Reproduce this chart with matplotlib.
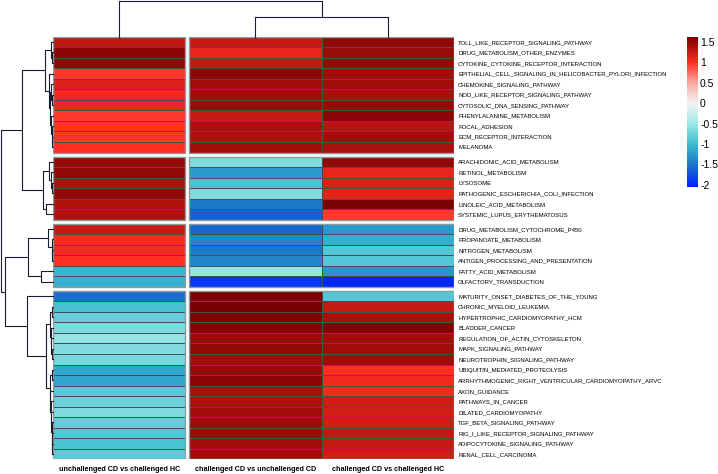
import numpy as np
import matplotlib
matplotlib.use("Agg")
import matplotlib.pyplot as plt
from matplotlib.colors import LinearSegmentedColormap, Normalize
from matplotlib.cm import ScalarMappable
from matplotlib.patches import Rectangle

plt.rcParams["font.family"] = ["Liberation Sans", "DejaVu Sans"]

pathways = [
    "TOLL_LIKE_RECEPTOR_SIGNALING_PATHWAY", "DRUG_METABOLISM_OTHER_ENZYMES",
    "CYTOKINE_CYTOKINE_RECEPTOR_INTERACTION",
    "EPITHELIAL_CELL_SIGNALING_IN_HELICOBACTER_PYLORI_INFECTION",
    "CHEMOKINE_SIGNALING_PATHWAY", "NOD_LIKE_RECEPTOR_SIGNALING_PATHWAY",
    "CYTOSOLIC_DNA_SENSING_PATHWAY", "PHENYLALANINE_METABOLISM", "FOCAL_ADHESION",
    "ECM_RECEPTOR_INTERACTION", "MELANOMA",
    "ARACHIDONIC_ACID_METABOLISM", "RETINOL_METABOLISM", "LYSOSOME",
    "PATHOGENIC_ESCHERICHIA_COLI_INFECTION", "LINOLEIC_ACID_METABOLISM",
    "SYSTEMIC_LUPUS_ERYTHEMATOSUS",
    "DRUG_METABOLISM_CYTOCHROME_P450", "PROPANOATE_METABOLISM", "NITROGEN_METABOLISM",
    "ANTIGEN_PROCESSING_AND_PRESENTATION", "FATTY_ACID_METABOLISM",
    "OLFACTORY_TRANSDUCTION",
    "MATURITY_ONSET_DIABETES_OF_THE_YOUNG", "CHRONIC_MYELOID_LEUKEMIA",
    "HYPERTROPHIC_CARDIOMYOPATHY_HCM", "BLADDER_CANCER",
    "REGULATION_OF_ACTIN_CYTOSKELETON", "MAPK_SIGNALING_PATHWAY",
    "NEUROTROPHIN_SIGNALING_PATHWAY", "UBIQUITIN_MEDIATED_PROTEOLYSIS",
    "ARRHYTHMOGENIC_RIGHT_VENTRICULAR_CARDIOMYOPATHY_ARVC", "AXON_GUIDANCE",
    "PATHWAYS_IN_CANCER", "DILATED_CARDIOMYOPATHY", "TGF_BETA_SIGNALING_PATHWAY",
    "RIG_I_LIKE_RECEPTOR_SIGNALING_PATHWAY", "ADIPOCYTOKINE_SIGNALING_PATHWAY",
    "RENAL_CELL_CARCINOMA",
]
block_sizes = [11, 6, 6, 16]

comparisons = ["unchallenged CD vs challenged HC",
               "challenged CD vs unchallenged CD",
               "challenged CD vs challenged HC"]

unchal_cd_vs_chal_hc = [
    1.30, 1.52, 1.50, 0.95, 1.15, 1.05, 1.08, 0.95, 0.98, 0.97, 1.00,
    1.48, 1.50, 1.38, 1.50, 1.35, 1.37,
    1.25, 1.02, 1.02, 0.98, -1.05, -1.08,
    -1.55, -0.95, -0.80, -0.65, -0.55, -0.65, -0.70, -1.15, -1.15, -0.85,
    -0.75, -0.65, -0.80, -0.88, -0.92, -0.82,
]
chal_cd_vs_unchal_cd = [
    1.25, 1.10, 1.27, 1.52, 1.42, 1.42, 1.45, 1.26, 1.38, 1.38, 1.42,
    -0.65, -1.25, -0.92, -0.65, -1.50, -1.65,
    -1.60, -1.40, -1.50, -1.40, -0.55, -1.90,
    1.60, 1.62, 1.58, 1.57, 1.45, 1.50, 1.42, 1.47, 1.52, 1.40,
    1.38, 1.42, 1.44, 1.46, 1.42, 1.43,
]
chal_cd_vs_chal_hc = [
    1.50, 1.45, 1.47, 1.42, 1.42, 1.40, 1.47, 1.52, 1.32, 1.42, 1.40,
    1.50, 1.10, 1.15, 1.12, 1.60, 0.95,
    -1.25, -1.10, -0.88, -0.88, -1.28, -2.00,
    -0.88, 1.25, 1.40, 1.57, 1.43, 1.42, 1.44, 1.00, 1.05, 1.05,
    1.22, 1.20, 1.23, 1.28, 1.25, 1.23,
]

# merges: (left, right, height); ids >= 39 refer to earlier merges
row_links = [
    (1, 2, 1.0), (0, 39, 2.5), (5, 6, 0.8), (4, 41, 1.8), (9, 10, 0.7),
    (8, 43, 1.4), (7, 44, 2.2), (42, 45, 3.0), (3, 46, 4.0), (40, 47, 8.0),
    (13, 14, 0.7), (12, 49, 2.0), (11, 50, 4.0), (15, 16, 7.5), (51, 52, 9.7),
    (19, 20, 0.7), (18, 54, 1.5), (17, 55, 5.0), (21, 22, 12.3), (56, 57, 24.7),
    (24, 25, 1.2), (28, 29, 0.8), (27, 60, 1.6), (26, 61, 2.4), (59, 62, 3.5),
    (30, 31, 1.5), (37, 38, 0.6), (36, 65, 1.0), (35, 66, 1.3), (34, 67, 1.7),
    (33, 68, 2.1), (32, 69, 2.6), (64, 70, 3.5), (63, 71, 7.5), (23, 72, 26.3),
    (48, 53, 31.3), (58, 73, 48.3), (74, 75, 52.5),
]
col_links = [(1, 2, 19.4), (0, 3, 36.2)]

cbar_ticks = [1.5, 1, 0.5, 0, -0.5, -1, -1.5, -2]

vmin, vmax = -2.05, 1.62
stops = [(-2.05, "#0020ff"), (-1.5, "#1c78c8"), (-1.0, "#3cbdd0"), (-0.5, "#9ee8e8"),
         (0.0, "#f4f4f2"), (0.5, "#f8a8a0"), (1.0, "#ff2e20"), (1.62, "#780000")]
cmap = LinearSegmentedColormap.from_list(
    "hm", [((v - vmin) / (vmax - vmin), c) for v, c in stops])
norm = Normalize(vmin, vmax)

data = np.column_stack([unchal_cd_vs_chal_hc, chal_cd_vs_unchal_cd, chal_cd_vs_chal_hc])

W, H = 718, 474
fig = plt.figure(figsize=(W / 100, H / 100), dpi=100)


def px_axes(x0, y0, x1, y1):
    return fig.add_axes([x0 / W, 1 - y1 / H, (x1 - x0) / W, (y1 - y0) / H])


rgap = 0.38
cgap = 0.03
col_groups = [[0], [1, 2]]
col_left = [0, 1 + cgap, 2 + cgap]
col_centers = [c + 0.5 for c in col_left]

ax = px_axes(53, 36.7, 454, 459.3)
row_centers = []
start = 0
for b, n in enumerate(block_sizes):
    y0 = start + b * rgap
    yedges = y0 + np.arange(n + 1)
    row_centers += list(y0 + np.arange(n) + 0.5)
    for grp in col_groups:
        x0 = col_left[grp[0]]
        xedges = x0 + np.arange(len(grp) + 1)
        ax.pcolormesh(xedges, yedges, data[start:start + n, grp[0]:grp[-1] + 1],
                      cmap=cmap, norm=norm, edgecolors="#475050", linewidth=0.7)
        ax.add_patch(Rectangle((x0, y0), len(grp), n, fill=False,
                               edgecolor="#8d9b9b", linewidth=1.0))
    start += n
total = sum(block_sizes) + (len(block_sizes) - 1) * rgap
ax.set_xlim(0, 3 + cgap)
ax.set_ylim(total, 0)
for s in ax.spines.values():
    s.set_visible(False)
ax.yaxis.tick_right()
ax.set_yticks(row_centers)
ax.set_yticklabels(pathways, fontsize=4.3)
ax.set_xticks(col_centers)
ax.set_xticklabels(comparisons, fontsize=5.2, fontweight="bold")
ax.tick_params(length=0, axis="y", pad=3)
ax.tick_params(length=0, axis="x", pad=5)


def draw_dendro(dax, links, leaf_pos, side):
    pos = list(leaf_pos)
    hts = [0.0] * len(leaf_pos)
    for a, b, h in links:
        pa, pb = pos[a], pos[b]
        if side == "left":
            dax.plot([hts[a], h, h, hts[b]], [pa, pa, pb, pb], color="#1c1c30",
                     lw=0.8, clip_on=False)
        else:
            dax.plot([pa, pa, pb, pb], [hts[a], h, h, hts[b]], color="#1c1c30",
                     lw=0.8, clip_on=False)
        pos.append((pa + pb) / 2)
        hts.append(h)


rax = px_axes(0, 36.7, 53, 459.3)
draw_dendro(rax, row_links, row_centers, "left")
rax.set_ylim(total, 0)
rax.set_xlim(53, 0)
rax.axis("off")

tax = px_axes(53, 0, 454, 36.7)
draw_dendro(tax, col_links, col_centers, "top")
tax.set_xlim(0, 3 + cgap)
tax.set_ylim(0, 36.7)
tax.axis("off")

cax = px_axes(687, 36.7, 698, 187)
cb = fig.colorbar(ScalarMappable(norm=norm, cmap=cmap), cax=cax, ticks=cbar_ticks)
cb.outline.set_visible(False)
cb.set_ticklabels(["1.5", "1", "0.5", "0", "-0.5", "-1", "-1.5", "-2"])
cax.tick_params(length=0, pad=1.5, labelsize=7.5)

fig.savefig("out.png", dpi=100)
